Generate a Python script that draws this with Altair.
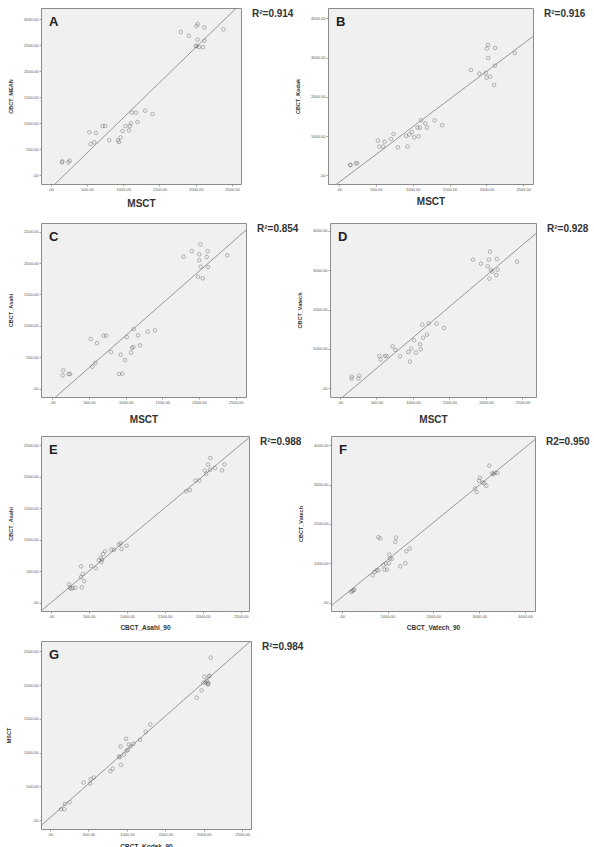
import altair as alt
import pandas as pd

FONT = "Liberation Sans"

# ---- Panel A: MSCT vs CBCT_MEAN
A_x = [156, 160, 243, 261, 532, 550, 601, 624, 716, 752, 807, 927, 940, 963, 991, 1032, 1078, 1092,
       1105, 1119, 1174, 1197, 1303, 1404, 1794, 1904, 2000, 2014, 2009, 2027, 2023, 2046, 2101, 2119, 2119, 2381]
A_y = [244, 263, 244, 276, 821, 596, 628, 808, 942, 942, 667, 667, 635, 724, 846, 942, 859, 942,
       994, 1199, 1199, 1019, 1237, 1173, 2750, 2679, 2481, 2481, 2865, 2904, 2603, 2461, 2461, 2840, 2583, 2801]

# ---- Panel B: MSCT vs CBCT_Kodak
B_x = [149, 158, 230, 248, 528, 546, 600, 618, 704, 740, 799, 912, 930, 953, 989, 1020, 1065, 1079,
       1097, 1111, 1170, 1192, 1296, 1400, 1788, 1901, 1991, 2000, 2004, 2022, 2022, 2050, 2104, 2117, 2117, 2384]
B_y = [263, 263, 306, 306, 883, 730, 730, 857, 925, 1053, 713, 1002, 730, 1036, 1104, 968, 1214, 993,
       1214, 1401, 1324, 1214, 1401, 1274, 2683, 2589, 2606, 2488, 3227, 3320, 2989, 2513, 2301, 2793, 3244, 3117]

# ---- Panel C: MSCT vs CBCT_Asahi
C_x = [150, 141, 223, 241, 523, 545, 586, 609, 700, 736, 800, 909, 932, 955, 991, 1014, 1073, 1086,
       1105, 1109, 1168, 1195, 1300, 1400, 1791, 1900, 1986, 2004, 2004, 2018, 2023, 2050, 2104, 2118, 2123, 2386]
C_y = [292, 212, 234, 234, 791, 350, 409, 727, 844, 844, 584, 234, 541, 239, 456, 823, 573, 648,
       664, 950, 849, 690, 908, 929, 2102, 2192, 1783, 2044, 2139, 2298, 1943, 1757, 2097, 2187, 1937, 2123]

# ---- Panel D: MSCT vs CBCT_Vatech
D_x = [160, 160, 251, 265, 539, 557, 616, 639, 721, 758, 822, 936, 959, 977, 1014, 1041, 1096, 1105,
       1128, 1137, 1192, 1215, 1324, 1425, 1822, 1931, 2023, 2041, 2046, 2055, 2068, 2087, 2141, 2151, 2160, 2425]
D_y = [297, 246, 246, 322, 822, 729, 822, 822, 1068, 975, 814, 924, 678, 1009, 1220, 907, 1119, 992,
       1619, 1288, 1364, 1653, 1644, 1534, 3271, 3170, 3102, 3271, 2788, 3475, 3009, 2966, 2881, 3288, 3017, 3220]

# ---- Panel E: CBCT_Asahi_90 vs CBCT_Asahi
E_x = [236, 249, 266, 284, 319, 397, 406, 397, 419, 437, 528, 590, 629, 655, 664, 672, 686, 712,
       795, 830, 895, 917, 930, 996, 1782, 1830, 1904, 1956, 2026, 2044, 2070, 2096, 2100, 2161, 2253, 2284]
E_y = [291, 238, 222, 233, 238, 577, 244, 408, 456, 344, 583, 546, 673, 715, 646, 683, 773, 816,
       842, 842, 922, 943, 853, 906, 1769, 1790, 1939, 1939, 2098, 2050, 2193, 2113, 2299, 2140, 2103, 2198]

# ---- Panel F: CBCT_Vatech_90 vs CBCT_Vatech
F_x = [204, 233, 254, 276, 676, 720, 763, 800, 800, 843, 909, 931, 967, 989, 1025, 1040, 1054, 1091,
       1170, 1185, 1280, 1389, 1411, 1483, 2908, 2944, 2995, 3017, 3075, 3112, 3155, 3221, 3286, 3308, 3337, 3395]
F_y = [272, 297, 314, 331, 696, 781, 824, 824, 1664, 1630, 951, 841, 993, 841, 1002, 1223, 1121, 1112,
       1545, 1656, 925, 1002, 1307, 1375, 2904, 2810, 3099, 3175, 3056, 3039, 2971, 3481, 3286, 3260, 3303, 3294]

# ---- Panel G: CBCT_Kodak_90 vs MSCT
G_x = [143, 186, 195, 256, 438, 520, 529, 568, 784, 815, 897, 906, 923, 919, 962, 988, 997, 1010,
       1023, 1049, 1083, 1170, 1244, 1304, 1907, 1971, 1993, 2006, 2024, 2037, 2050, 2054, 2063, 2076, 2089, 2058]
G_y = [163, 163, 242, 267, 558, 543, 608, 632, 726, 761, 944, 934, 820, 1092, 973, 1205, 1028, 1042,
       1121, 1092, 1131, 1191, 1309, 1418, 1813, 1922, 2035, 2124, 2035, 2065, 2011, 2035, 2129, 2139, 2406, 2016]

TICKS_2500 = [0, 500, 1000, 1500, 2000, 2500]
TICKS_3000 = [0, 500, 1000, 1500, 2000, 2500, 3000]
TICKS_4000 = [0, 1000, 2000, 3000, 4000]

LABEL_EXPR = "datum.value == 0 ? '.00' : format(datum.value, '.2f')"


def panel(xs, ys, xdom, ydom, xticks, yticks, xtitle, ytitle, letter, r2,
          w, h, xt_size, xt_y, yt_x):
    df = pd.DataFrame({"x": xs, "y": ys})
    xenc = alt.X(
        "x:Q",
        scale=alt.Scale(domain=xdom, nice=False, zero=False),
        axis=alt.Axis(values=xticks, labelExpr=LABEL_EXPR, title=xtitle,
                      titleFontSize=xt_size, titleY=xt_y, titleX=w / 2,
                      titleBaseline="middle", titleAlign="center"),
    )
    yenc = alt.Y(
        "y:Q",
        scale=alt.Scale(domain=ydom, nice=False, zero=False),
        axis=alt.Axis(values=yticks, labelExpr=LABEL_EXPR, title=ytitle,
                      titleFontSize=5.5, titleX=yt_x, titleY=h / 2, titleAngle=270,
                      titleBaseline="middle", titleAlign="center"),
    )
    base = alt.Chart(df).encode(x=xenc, y=yenc)
    pts = base.mark_point(shape="circle", filled=False, size=13, color="#666666", strokeWidth=0.65)
    line = base.transform_regression("x", "y", extent=xdom).mark_line(
        color="#808080", strokeWidth=0.8, clip=True)
    lab = alt.Chart(pd.DataFrame({"t": [letter]})).mark_text(
        align="left", baseline="alphabetic", fontSize=13, fontWeight="bold",
        font=FONT, color="#222222").encode(text="t:N", x=alt.value(8), y=alt.value(18))
    r2t = alt.Chart(pd.DataFrame({"t": [r2]})).mark_text(
        align="left", baseline="middle", fontSize=10, fontWeight="bold",
        font=FONT, color="#333333").encode(text="t:N", x=alt.value(w + 11), y=alt.value(6))
    return alt.layer(line, pts, lab, r2t).properties(width=w, height=h)


pA = panel(A_x, A_y, [-134, 2624], [-173, 3212], TICKS_2500, TICKS_3000, "MSCT", "CBCT_MEAN",
           "A", "R²=0.914", 200, 176, 10, 19, -31)
pB = panel(B_x, B_y, [-149, 2631], [-222, 4262], TICKS_2500, TICKS_4000, "MSCT", "CBCT_Kodak",
           "B", "R²=0.916", 205, 176, 10, 17, -31)
pC = panel(C_x, C_y, [-154, 2640], [-132, 2638], TICKS_2500, TICKS_2500, "MSCT", "CBCT_Asahi",
           "C", "R²=0.854", 205, 174, 10, 22, -31)
pD = panel(D_x, D_y, [-137, 2685], [-221, 4203], TICKS_2500, TICKS_4000, "MSCT", "CBCT_Vatech",
           "D", "R²=0.928", 206, 174, 10, 22, -31)
pE = panel(E_x, E_y, [-132, 2609], [-132, 2648], TICKS_2500, TICKS_2500, "CBCT_Asahi_90", "CBCT_Asahi",
           "E", "R²=0.988", 208, 175, 6.5, 16, -31)
pF = panel(F_x, F_y, [-233, 4218], [-211, 4236], TICKS_4000, TICKS_4000, "CBCT_Vatech_90", "CBCT_Vatech",
           "F", "R2=0.950", 204, 175, 6.5, 16, -31)
pG = panel(G_x, G_y, [-117, 2613], [-129, 2652], TICKS_2500, TICKS_2500, "CBCT_Kodak_90", "MSCT",
           "G", "R²=0.984", 210, 188, 6.5, 17, -33)

row1 = alt.hconcat(pA, pB, spacing=87, bounds="flush")
row2 = alt.hconcat(pC, pD, spacing=84, bounds="flush")
row3 = alt.hconcat(pE, pF, spacing=82, bounds="flush")

r12 = alt.vconcat(row1, row2, spacing=13)
r123 = alt.vconcat(r12, row3, spacing=10)
chart = alt.vconcat(r123, pG, spacing=9).properties(
    padding={"left": 5, "top": 7, "right": 0, "bottom": 0},
    background="white",
).configure_view(
    fill="#f0f0f0", stroke="#8c8c8c", strokeWidth=1,
).configure_axis(
    domain=False, grid=False, ticks=True, tickSize=2, tickColor="#8c8c8c", tickWidth=0.8,
    labelFont=FONT, labelFontSize=4, labelColor="#555555", labelPadding=1,
    titleFont=FONT, titleFontWeight="bold", titleColor="#333333",
    minExtent=16, maxExtent=16,
)

chart.save("out.html", embed_options={"renderer": "svg", "actions": False})
